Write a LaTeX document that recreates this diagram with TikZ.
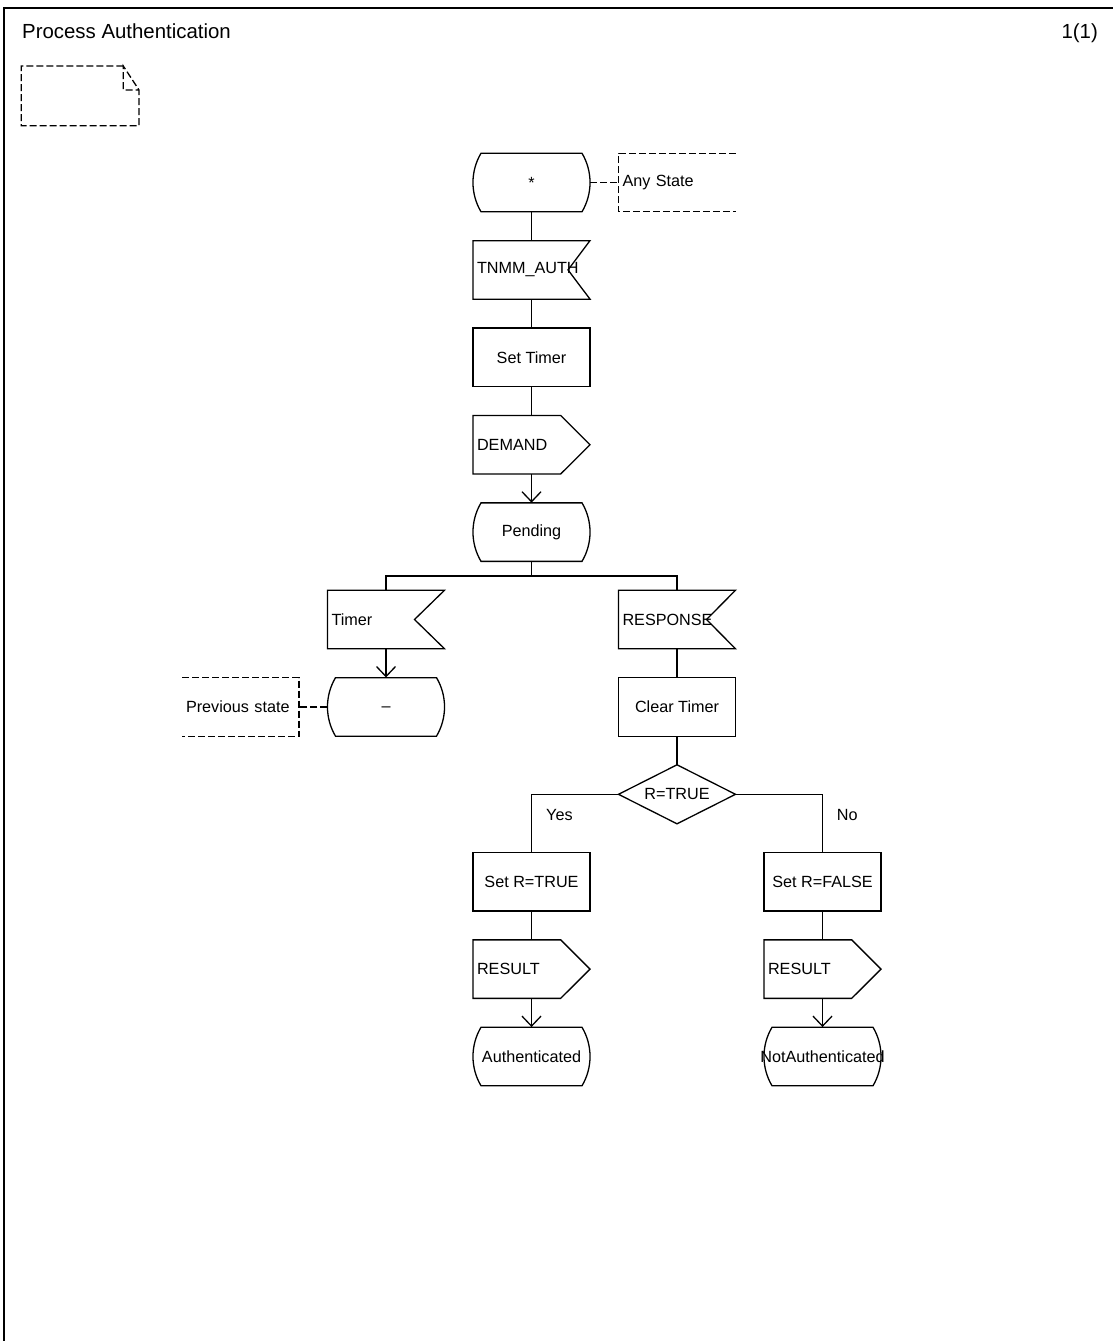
\documentclass[tikz,border=0pt]{standalone}
\usepackage{fontspec}
\setmainfont{Liberation Sans}
\usetikzlibrary{arrows.meta,calc}

\newcommand\sdlbody{\fontsize{16.2}{19}\selectfont}
\newcommand\sdltitle{\fontsize{20.4}{24}\selectfont}

% SDL symbol outlines, drawn around a named node (half size 58.5 x 29.25)
\newcommand\sdlstateshape[1]{%
  \draw[shp] ($(#1)+(-50.5,-29.25)$) -- ($(#1)+(50.5,-29.25)$)
    .. controls ($(#1)+(61.2,-11.2)$) and ($(#1)+(61.2,11.2)$) .. ($(#1)+(50.5,29.25)$)
    -- ($(#1)+(-50.5,29.25)$)
    .. controls ($(#1)+(-61.2,11.2)$) and ($(#1)+(-61.2,-11.2)$) .. cycle;}
\newcommand\sdlinputshape[2]{%
  \draw[shp] ($(#1)+(-58.5,-29.25)$) -- ($(#1)+(58.5,-29.25)$)
    -- ($(#1)+(58.5-#2,0)$) -- ($(#1)+(58.5,29.25)$)
    -- ($(#1)+(-58.5,29.25)$) -- cycle;}
\newcommand\sdloutputshape[1]{%
  \draw[shp] ($(#1)+(-58.5,-29.25)$) -- ($(#1)+(29.2,-29.25)$)
    -- ($(#1)+(58.5,0)$) -- ($(#1)+(29.2,29.25)$)
    -- ($(#1)+(-58.5,29.25)$) -- cycle;}
\newcommand\sdltaskshape[1]{%
  \draw[shp] ($(#1)+(-58.5,-29.25)$) rectangle ($(#1)+(58.5,29.25)$);}
\newcommand\sdldecisionshape[1]{%
  \draw[shp] ($(#1)+(-58.5,0)$) -- ($(#1)+(0,-29.5)$)
    -- ($(#1)+(58.5,0)$) -- ($(#1)+(0,29.5)$) -- cycle;}

\begin{document}
\begin{tikzpicture}[x=1pt,y=-1pt,
  shp/.style={draw=black,line width=1.3pt,line join=miter},
  wire/.style={draw=black,line width=1.3pt},
  flow/.style={wire,-{Straight Barb[length=10pt,width=19pt]}},
  cmt/.style={draw=black,line width=1.3pt,dash pattern=on 7pt off 3pt},
  blk/.style={draw=none,inner sep=0pt,minimum width=117pt,minimum height=58.5pt,font=\sdlbody},
  sig/.style={blk,text width=109pt,align=left,inner xsep=4pt},
  lbl/.style={inner sep=0pt,font=\sdlbody}]

\useasboundingbox (0,0) rectangle (1112,1341);

% page frame
\draw[line width=1.5pt] (4,1345) -- (4,8) -- (1116,8);

% heading
\node[anchor=base west,inner sep=0pt,font=\sdltitle] (title) at (22,38) {Process Authentication};
\node[anchor=base east,inner sep=0pt,font=\sdltitle] (page) at (1098,38) {1(1)};

% text symbol in the upper left corner
\draw[cmt] (123.3,66) -- (21.3,66) -- (21.3,125.7) -- (139,125.7) -- (139,90) -- (123.3,66) -- (123.3,90) -- (139,90);

% nodes
\node[blk] (start)    at (531.5,182.5)  {*};
\node[sig] (tnmm)     at (531.5,269.9)  {TNMM\_AUTH};
\node[blk] (settimer) at (531.5,357.3)  {Set Timer};
\node[sig] (demand)   at (531.5,444.7)  {DEMAND};
\node[blk] (pending)  at (531.5,532.1)  {Pending};
\node[sig] (timer)    at (386,619.5)    {Timer};
\node[sig] (response) at (677,619.5)    {RESPONSE};
\node[blk,text height=8.8pt,text depth=0pt] (prev) at (386,706.9) {–};
\node[blk] (clear)    at (677,706.9)    {Clear Timer};
\node[blk] (dec)      at (677,794.3)    {R=TRUE};
\node[blk] (setT)     at (531.5,881.7)  {Set R=TRUE};
\node[blk] (setF)     at (822.5,881.7)  {Set R=FALSE};
\node[sig] (resT)     at (531.5,969.1)  {RESULT};
\node[sig] (resF)     at (822.5,969.1)  {RESULT};
\node[blk] (auth)     at (531.5,1056.5) {Authenticated};
\node[blk] (nauth)    at (822.5,1056.5) {NotAuthenticated};

% comments
\node[sig] (anyc)  at (677,182.5)   {Any State};
\node[sig] (prevc) at (240.5,706.9) {Previous state};

% outlines
\sdlstateshape{start}
\sdlinputshape{tnmm}{22}
\sdltaskshape{settimer}
\sdloutputshape{demand}
\sdlstateshape{pending}
\sdlinputshape{timer}{30}
\sdlinputshape{response}{29}
\sdlstateshape{prev}
\sdltaskshape{clear}
\sdldecisionshape{dec}
\sdltaskshape{setT}
\sdltaskshape{setF}
\sdloutputshape{resT}
\sdloutputshape{resF}
\sdlstateshape{auth}
\sdlstateshape{nauth}
\draw[cmt] ($(anyc)+(58.5,-29.25)$) -- ($(anyc)+(-58.5,-29.25)$) -- ($(anyc)+(-58.5,29.25)$) -- ($(anyc)+(58.5,29.25)$);
\draw[cmt] ($(prevc)+(-58.5,-29.25)$) -- ($(prevc)+(58.5,-29.25)$) -- ($(prevc)+(58.5,29.25)$) -- ($(prevc)+(-58.5,29.25)$);

% connectors
\draw[wire] (start.south) -- (tnmm.north);
\draw[wire] (tnmm.south) -- (settimer.north);
\draw[wire] (settimer.south) -- (demand.north);
\draw[flow] (demand.south) -- (pending.north);
\coordinate (fork) at (531.5,576);
\draw[wire] (pending.south) -- (fork);
\draw[wire] (timer.north) |- (fork) -| (response.north);
\draw[flow] (timer.south) -- (prev.north);
\draw[wire] (response.south) -- (clear.north);
\draw[wire] (clear.south) -- (dec.north);
\draw[wire] (dec.west) -| (setT.north);
\draw[wire] (dec.east) -| (setF.north);
\node[lbl,anchor=west] (yes) at (546,815) {Yes};
\node[lbl,anchor=west] (no)  at (836.7,815) {No};
\draw[wire] (setT.south) -- (resT.north);
\draw[wire] (setF.south) -- (resF.north);
\draw[flow] (resT.south) -- (auth.north);
\draw[flow] (resF.south) -- (nauth.north);
\draw[cmt] (start.east) -- (anyc.west);
\draw[cmt] (prev.west) -- (prevc.east);

\end{tikzpicture}
\end{document}
